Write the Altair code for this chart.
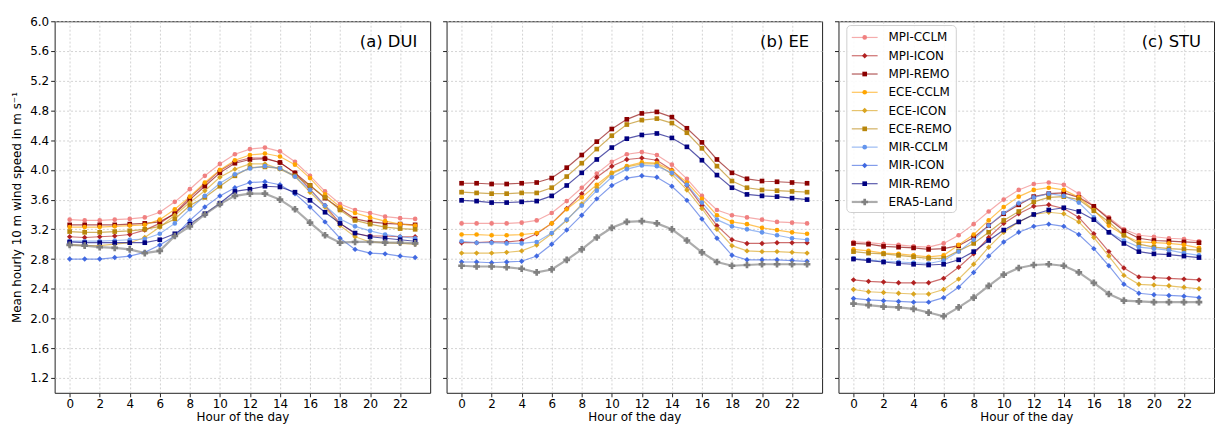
import altair as alt
import pandas as pd

hours = list(range(24))
models = ["MPI-CCLM", "MPI-ICON", "MPI-REMO", "ECE-CCLM", "ECE-ICON", "ECE-REMO",
          "MIR-CCLM", "MIR-ICON", "MIR-REMO", "ERA5-Land"]
colors = ["#F08080", "#B22222", "#8B0000", "#FFA500", "#DAA520", "#B8860B",
          "#6495ED", "#4169E1", "#000080", "#808080"]
shapes = ["circle", "diamond", "square"] * 3 + ["cross"]
marker_sizes = [22, 30, 22] * 3 + [45]
line_widths = [1.2] * 9 + [2.2]
x_ticks = list(range(0, 24, 2))
y_ticks = [1.2, 1.6, 2.0, 2.4, 2.8, 3.2, 3.6, 4.0, 4.4, 4.8, 5.2, 5.6, 6.0]
panel_titles = ["(a) DUI", "(b) EE", "(c) STU"]

dui = {
    "MPI-CCLM": [3.33, 3.32, 3.32, 3.33, 3.34, 3.36, 3.43, 3.57, 3.74, 3.92, 4.08, 4.21, 4.28, 4.30, 4.25, 4.11, 3.92, 3.71, 3.54, 3.46, 3.42, 3.37, 3.35, 3.34],
    "MPI-ICON": [3.10, 3.09, 3.10, 3.11, 3.13, 3.19, 3.28, 3.42, 3.63, 3.81, 3.99, 4.11, 4.16, 4.16, 4.10, 3.96, 3.74, 3.52, 3.28, 3.14, 3.11, 3.11, 3.10, 3.10],
    "MPI-REMO": [3.26, 3.26, 3.26, 3.26, 3.27, 3.28, 3.30, 3.41, 3.60, 3.78, 3.96, 4.09, 4.14, 4.15, 4.10, 3.96, 3.79, 3.62, 3.48, 3.34, 3.30, 3.28, 3.27, 3.26],
    "ECE-CCLM": [3.23, 3.23, 3.23, 3.24, 3.25, 3.26, 3.33, 3.47, 3.64, 3.83, 4.00, 4.13, 4.20, 4.22, 4.18, 4.07, 3.89, 3.67, 3.50, 3.42, 3.36, 3.31, 3.27, 3.25],
    "ECE-ICON": [2.99, 2.98, 2.98, 3.00, 3.02, 3.09, 3.23, 3.39, 3.56, 3.72, 3.90, 4.01, 4.08, 4.08, 4.01, 3.91, 3.70, 3.50, 3.25, 3.10, 3.03, 3.02, 3.01, 3.00],
    "ECE-REMO": [3.17, 3.16, 3.16, 3.17, 3.18, 3.20, 3.24, 3.34, 3.52, 3.63, 3.78, 3.92, 4.03, 4.04, 4.02, 3.92, 3.79, 3.63, 3.46, 3.32, 3.27, 3.23, 3.21, 3.20],
    "MIR-CCLM": [3.04, 3.04, 3.04, 3.05, 3.06, 3.07, 3.14, 3.28, 3.47, 3.65, 3.82, 3.94, 4.02, 4.05, 4.02, 3.91, 3.73, 3.52, 3.34, 3.24, 3.18, 3.13, 3.10, 3.08],
    "MIR-ICON": [2.80, 2.80, 2.80, 2.82, 2.84, 2.89, 2.99, 3.11, 3.32, 3.50, 3.65, 3.76, 3.83, 3.84, 3.80, 3.68, 3.50, 3.30, 3.08, 2.93, 2.88, 2.87, 2.84, 2.82],
    "MIR-REMO": [3.03, 3.02, 3.02, 3.02, 3.02, 3.02, 3.06, 3.14, 3.27, 3.41, 3.55, 3.71, 3.74, 3.78, 3.77, 3.70, 3.59, 3.43, 3.28, 3.15, 3.10, 3.08, 3.06, 3.04],
    "ERA5-Land": [2.99, 2.98, 2.96, 2.95, 2.93, 2.88, 2.91, 3.11, 3.24, 3.40, 3.54, 3.65, 3.68, 3.68, 3.60, 3.47, 3.29, 3.12, 3.02, 3.03, 3.03, 3.02, 3.02, 3.01],
}

ee = {
    "MPI-CCLM": [3.28, 3.28, 3.28, 3.28, 3.29, 3.32, 3.42, 3.58, 3.76, 3.95, 4.11, 4.21, 4.24, 4.20, 4.07, 3.88, 3.65, 3.46, 3.39, 3.36, 3.33, 3.30, 3.29, 3.28],
    "MPI-ICON": [3.02, 3.02, 3.03, 3.03, 3.05, 3.14, 3.28, 3.48, 3.68, 3.90, 4.05, 4.14, 4.16, 4.13, 4.00, 3.79, 3.52, 3.25, 3.06, 3.01, 3.01, 3.02, 3.02, 3.02],
    "MPI-REMO": [3.82, 3.82, 3.81, 3.81, 3.82, 3.83, 3.89, 4.03, 4.20, 4.38, 4.55, 4.68, 4.76, 4.78, 4.71, 4.56, 4.37, 4.14, 3.96, 3.88, 3.85, 3.84, 3.83, 3.82],
    "ECE-CCLM": [3.13, 3.13, 3.12, 3.12, 3.13, 3.15, 3.28, 3.47, 3.63, 3.80, 3.96, 4.05, 4.10, 4.09, 3.99, 3.83, 3.61, 3.39, 3.30, 3.27, 3.22, 3.19, 3.16, 3.14],
    "ECE-ICON": [2.88, 2.88, 2.88, 2.89, 2.91, 2.99, 3.14, 3.32, 3.54, 3.76, 3.95, 4.04, 4.08, 4.08, 3.94, 3.73, 3.48, 3.20, 2.98, 2.91, 2.90, 2.90, 2.89, 2.88],
    "ECE-REMO": [3.70, 3.69, 3.68, 3.68, 3.69, 3.69, 3.76, 3.91, 4.09, 4.28, 4.46, 4.61, 4.67, 4.69, 4.63, 4.50, 4.29, 4.05, 3.85, 3.76, 3.73, 3.72, 3.71, 3.70],
    "MIR-CCLM": [3.04, 3.02, 3.02, 3.01, 3.01, 3.03, 3.15, 3.33, 3.52, 3.72, 3.90, 4.01, 4.06, 4.05, 3.96, 3.80, 3.56, 3.33, 3.24, 3.20, 3.16, 3.12, 3.08, 3.06],
    "MIR-ICON": [2.76, 2.76, 2.75, 2.76, 2.77, 2.84, 3.00, 3.19, 3.39, 3.61, 3.79, 3.89, 3.92, 3.90, 3.78, 3.59, 3.34, 3.08, 2.85, 2.79, 2.79, 2.79, 2.78, 2.77],
    "MIR-REMO": [3.59, 3.58, 3.56, 3.56, 3.57, 3.58, 3.65, 3.79, 3.96, 4.14, 4.30, 4.42, 4.47, 4.49, 4.43, 4.31, 4.13, 3.93, 3.76, 3.67, 3.65, 3.64, 3.62, 3.60],
    "ERA5-Land": [2.71, 2.70, 2.70, 2.69, 2.67, 2.62, 2.66, 2.79, 2.93, 3.09, 3.22, 3.30, 3.31, 3.28, 3.20, 3.05, 2.89, 2.76, 2.71, 2.72, 2.73, 2.73, 2.73, 2.73],
}

stu = {
    "MPI-CCLM": [3.03, 3.02, 3.00, 2.99, 2.97, 2.96, 3.01, 3.12, 3.27, 3.44, 3.60, 3.73, 3.81, 3.83, 3.80, 3.68, 3.51, 3.36, 3.20, 3.12, 3.10, 3.08, 3.07, 3.04],
    "MPI-ICON": [2.52, 2.50, 2.49, 2.48, 2.48, 2.48, 2.54, 2.69, 2.87, 3.09, 3.28, 3.41, 3.51, 3.53, 3.48, 3.36, 3.14, 2.90, 2.68, 2.56, 2.55, 2.54, 2.53, 2.52],
    "MPI-REMO": [3.01, 3.00, 2.97, 2.96, 2.95, 2.93, 2.94, 2.98, 3.09, 3.25, 3.41, 3.53, 3.64, 3.68, 3.69, 3.63, 3.51, 3.34, 3.18, 3.08, 3.05, 3.04, 3.03, 3.02],
    "ECE-CCLM": [2.93, 2.91, 2.88, 2.87, 2.85, 2.83, 2.85, 2.99, 3.13, 3.32, 3.50, 3.64, 3.73, 3.76, 3.73, 3.63, 3.46, 3.25, 3.12, 3.03, 3.02, 3.01, 2.99, 2.95],
    "ECE-ICON": [2.39, 2.36, 2.35, 2.34, 2.33, 2.33, 2.39, 2.53, 2.73, 2.96, 3.16, 3.30, 3.40, 3.43, 3.41, 3.30, 3.09, 2.84, 2.58, 2.46, 2.45, 2.44, 2.42, 2.40],
    "ECE-REMO": [2.90, 2.88, 2.87, 2.85, 2.83, 2.81, 2.81, 2.91, 3.01, 3.16, 3.32, 3.44, 3.57, 3.63, 3.64, 3.60, 3.45, 3.30, 3.12, 3.00, 2.96, 2.94, 2.93, 2.92],
    "MIR-CCLM": [2.81, 2.79, 2.77, 2.76, 2.75, 2.74, 2.78, 2.90, 3.06, 3.25, 3.42, 3.55, 3.63, 3.68, 3.65, 3.56, 3.36, 3.16, 3.05, 2.96, 2.94, 2.92, 2.88, 2.85],
    "MIR-ICON": [2.27, 2.25, 2.24, 2.23, 2.22, 2.22, 2.28, 2.42, 2.62, 2.84, 3.03, 3.16, 3.24, 3.27, 3.24, 3.13, 2.94, 2.71, 2.46, 2.34, 2.32, 2.31, 2.30, 2.28],
    "MIR-REMO": [2.80, 2.78, 2.76, 2.74, 2.73, 2.72, 2.73, 2.79, 2.90, 3.05, 3.19, 3.30, 3.40, 3.46, 3.49, 3.44, 3.33, 3.16, 3.01, 2.90, 2.87, 2.86, 2.84, 2.82],
    "ERA5-Land": [2.20, 2.18, 2.16, 2.15, 2.13, 2.08, 2.03, 2.15, 2.28, 2.44, 2.59, 2.68, 2.72, 2.73, 2.71, 2.62, 2.48, 2.33, 2.24, 2.23, 2.22, 2.22, 2.22, 2.22],
}

W, H = 378, 374
FONT = "DejaVu Sans"

stroke_scale = alt.Scale(domain=models, range=colors)
fill_scale = alt.Scale(domain=models, range=colors)
shape_scale = alt.Scale(domain=models, range=shapes)
size_scale = alt.Scale(type="ordinal", domain=models, range=marker_sizes)
width_scale = alt.Scale(type="ordinal", domain=models, range=line_widths)


def long_table(values):
    rows = []
    for i, m in enumerate(models):
        for h, v in zip(hours, values[m]):
            rows.append({"hour": h, "model": m, "order": i, "speed": v})
    return pd.DataFrame(rows)


def legend_layer():
    # legend rows placed through a point scale over the model names
    leg = alt.Chart(pd.DataFrame({"model": models}))
    ly = alt.Y("model:N", scale=alt.Scale(type="point", domain=models, range=[16.3, 181.9], padding=0),
               axis=None)
    frame = alt.Chart(pd.DataFrame({"a": [0]})).mark_rect(
        fill="white", stroke="#cccccc", strokeWidth=1, cornerRadius=4, opacity=0.9
    ).encode(x=alt.value(8.4), x2=alt.value(118.6), y=alt.value(4.3), y2=alt.value(192.5))
    seg = leg.mark_rule(opacity=0.65).encode(
        x=alt.value(13.4), x2=alt.value(39.4), y=ly,
        stroke=alt.Stroke("model:N", scale=stroke_scale, legend=None),
        strokeWidth=alt.StrokeWidth("model:N", scale=width_scale, legend=None),
    )
    mk = leg.mark_point(filled=True, opacity=1).encode(
        x=alt.value(26.4), y=ly,
        fill=alt.Fill("model:N", scale=fill_scale, legend=None),
        shape=alt.Shape("model:N", scale=shape_scale, legend=None),
        size=alt.Size("model:N", scale=size_scale, legend=None),
    )
    txt = leg.mark_text(align="left", baseline="middle", font=FONT, fontSize=12, color="black").encode(
        x=alt.value(50.4), y=ly, text="model:N"
    )
    return alt.layer(frame, seg, mk, txt)


def panel(values, title, first, with_legend):
    df = long_table(values)
    base = alt.Chart(df)
    x = alt.X("hour:Q", scale=alt.Scale(domain=[-1, 24], nice=False, zero=False),
              axis=alt.Axis(values=x_ticks, title="Hour of the day", format="d"))
    if first:
        y_axis = alt.Axis(values=y_ticks, format=".1f",
                          title="Mean hourly 10 m wind speed in m s\u207b\u00b9")
    else:
        y_axis = alt.Axis(values=y_ticks, labels=False, title=None)
    y = alt.Y("speed:Q", scale=alt.Scale(domain=[1.0, 6.0], nice=False, zero=False), axis=y_axis)

    lines = base.mark_line(opacity=0.65).encode(
        x=x, y=y,
        stroke=alt.Stroke("model:N", scale=stroke_scale, legend=None),
        strokeWidth=alt.StrokeWidth("model:N", scale=width_scale, legend=None),
        order="hour:Q",
    )
    points = base.mark_point(filled=True, opacity=1).encode(
        x=x, y=y,
        fill=alt.Fill("model:N", scale=fill_scale, legend=None),
        shape=alt.Shape("model:N", scale=shape_scale, legend=None),
        size=alt.Size("model:N", scale=size_scale, legend=None),
    )
    label = alt.Chart(pd.DataFrame({"t": [title]})).mark_text(
        align="right", baseline="middle", font=FONT, fontSize=16.5, color="black"
    ).encode(x=alt.value(W - 13), y=alt.value(21), text="t:N")
    data_layer = alt.layer(lines, points, label)
    if with_legend:
        return alt.layer(data_layer, legend_layer()).resolve_scale(y="independent").properties(width=W, height=H)
    return data_layer.properties(width=W, height=H)


chart = alt.hconcat(
    panel(dui, panel_titles[0], True, False),
    panel(ee, panel_titles[1], False, False),
    panel(stu, panel_titles[2], False, True),
    spacing=10.5,
).properties(
    padding={"left": 10, "top": 13, "right": 0, "bottom": 0},
    background="white",
).configure_view(
    stroke="#222222", strokeWidth=1,
).configure_axis(
    labelFont=FONT, labelFontSize=12, labelColor="black",
    titleFont=FONT, titleFontSize=12, titleFontWeight="normal", titleColor="black",
    tickColor="#222222", tickSize=4, tickWidth=1, labelPadding=2,
    domain=False, grid=True, gridColor="#c8c8c8", gridDash=[2, 2], gridWidth=0.8,
).configure_axisX(titlePadding=2).configure_axisY(titlePadding=6)

chart.save("out.html", embed_options={"renderer": "svg", "actions": False})
